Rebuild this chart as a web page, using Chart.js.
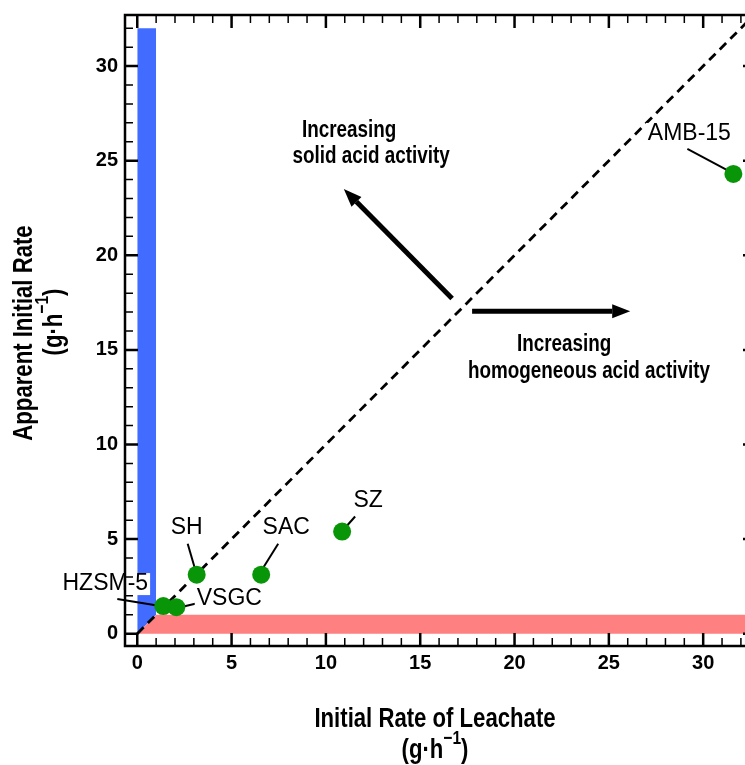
<!DOCTYPE html>
<html>
<head>
<meta charset="utf-8">
<script src="https://cdn.jsdelivr.net/npm/chart.js@4.4.1/dist/chart.umd.min.js"></script>
<style>
  html, body { margin: 0; padding: 0; background: #fff; overflow: hidden; }
  /* the frame's right edge runs just past the picture, so the canvas is clipped */
  #wrap { width: 745px; height: 765px; overflow: hidden; position: relative; }
  #chart { position: absolute; left: 0; top: 0; }
</style>
</head>
<body>
<div id="wrap"><canvas id="chart" width="760" height="765"></canvas></div>
<script>
// catalysts and their rates (g/h)
const catalysts = ['HZSM-5', 'VSGC', 'SH', 'SAC', 'SZ', 'AMB-15'];
const leachateRate = [1.38, 2.07, 3.15, 6.57, 10.86, 31.6];
const apparentRate = [1.46, 1.40, 3.12, 3.12, 5.40, 24.3];

const xTicks = [0, 5, 10, 15, 20, 25, 30];
const yTicks = [0, 5, 10, 15, 20, 25, 30];

// shaded bands
const solidBandX = [0, 1];
const solidBandTop = [32, 32];
const solidBandBottom = [0, 1];
const leachBandX = [0, 1, 32.8];
const leachBandTop = [0, 1, 1];

// y = x parity line
const parityX = [0, 33];

// arrows (tail, head) and notes
const arrowSolidX = [16.69, 10.95];
const arrowSolidY = [17.72, 23.5];
const arrowHomoX = [17.75, 26.13];
const arrowHomoY = [17.04, 17.04];
const noteSolid = ['Increasing', 'solid acid activity'];
const noteSolidX = [11.23, 12.4];
const noteSolidY = [26.6, 25.2];
const noteHomo = ['Increasing', 'homogeneous acid activity'];
const noteHomoX = [22.63, 23.95];
const noteHomoY = [15.3, 13.86];

const toXY = (xs, ys) => xs.map((x, i) => ({ x: x, y: ys[i] }));

// label placement in pixels relative to each point
const labelStyle = {
  'HZSM-5': { dx: -58, dy: -22, from: [-46, -7], to: [-3, 0] },
  'VSGC':   { dx: 53,  dy: -9,  from: [21, -4],  to: [4, 0] },
  'SH':     { dx: -10, dy: -47, from: [-9, -31], to: [-2, -7] },
  'SAC':    { dx: 25,  dy: -47, from: [17, -31], to: [2, -7] },
  'SZ':     { dx: 26,  dy: -31, from: [13, -15], to: [5, -6] },
  'AMB-15': { dx: -44, dy: -40, from: [-46, -25], to: [-1, -1] }
};

const FONT = "'Liberation Sans', Arial, sans-serif";
const SQUEEZE = 0.82; // narrow bold look of the original

function narrowText(ctx, text, x, y, size, rot) {
  ctx.save();
  ctx.translate(x, y);
  if (rot) ctx.rotate(rot);
  ctx.scale(SQUEEZE, 1);
  ctx.font = 'bold ' + size + 'px ' + FONT;
  ctx.textAlign = 'center';
  ctx.textBaseline = 'middle';
  ctx.fillText(text, 0, 0);
  ctx.restore();
}

const pointLabels = {
  id: 'pointLabels',
  beforeDatasetDraw(chart, args) {
    if (args.index !== 5) return;
    const { ctx, scales: { x, y } } = chart;
    ctx.save();
    ctx.font = '23px ' + FONT;
    ctx.textAlign = 'center';
    ctx.textBaseline = 'middle';
    catalysts.forEach((name, i) => {
      const s = labelStyle[name];
      const px = x.getPixelForValue(leachateRate[i]);
      const py = y.getPixelForValue(apparentRate[i]);
      ctx.strokeStyle = '#000';
      ctx.lineWidth = 2;
      ctx.beginPath();
      ctx.moveTo(px + s.from[0], py + s.from[1]);
      ctx.lineTo(px + s.to[0], py + s.to[1]);
      ctx.stroke();
      const w = ctx.measureText(name).width;
      ctx.fillStyle = '#fff';
      ctx.fillRect(px + s.dx - w / 2 - 2, py + s.dy - 11, w + 4, 22);
      ctx.fillStyle = '#000';
      ctx.fillText(name, px + s.dx, py + s.dy);
    });
    ctx.restore();
  }
};

function drawArrow(ctx, x0, y0, x1, y1) {
  const ang = Math.atan2(y1 - y0, x1 - x0);
  const head = 18, half = 7;
  const bx = x1 - head * Math.cos(ang), by = y1 - head * Math.sin(ang);
  ctx.lineWidth = 5;
  ctx.beginPath();
  ctx.moveTo(x0, y0);
  ctx.lineTo(bx, by);
  ctx.stroke();
  ctx.beginPath();
  ctx.moveTo(x1, y1);
  ctx.lineTo(bx + half * Math.sin(ang), by - half * Math.cos(ang));
  ctx.lineTo(bx - half * Math.sin(ang), by + half * Math.cos(ang));
  ctx.closePath();
  ctx.fill();
}

// "(g·h-1)" with the -1 raised, centred on (0,0) of the current transform
function drawUnit(ctx, size) {
  ctx.save();
  ctx.scale(SQUEEZE, 1);
  const big = 'bold ' + size + 'px ' + FONT;
  const small = 'bold ' + Math.round(size * 0.7) + 'px ' + FONT;
  ctx.font = big;
  const w1 = ctx.measureText('(g·h').width;
  const w3 = ctx.measureText(')').width;
  ctx.font = small;
  const w2 = ctx.measureText('−1').width;
  const left = -(w1 + w2 + w3) / 2;
  ctx.textAlign = 'left';
  ctx.textBaseline = 'middle';
  ctx.font = big;
  ctx.fillText('(g·h', left, 0);
  ctx.font = small;
  ctx.fillText('−1', left + w1, -size * 0.45);
  ctx.font = big;
  ctx.fillText(')', left + w1 + w2, 0);
  ctx.restore();
}

const decorations = {
  id: 'decorations',
  afterDatasetsDraw(chart) {
    const { ctx, chartArea: a, scales: { x, y } } = chart;
    ctx.save();
    ctx.strokeStyle = '#000';
    ctx.fillStyle = '#000';
    // ticks on all four sides, pointing in
    for (let v = 0; v <= 32; v++) {
      const major = v % 5 === 0;
      const len = major ? 13 : 8;
      ctx.lineWidth = major ? 2.5 : 1.5;
      const px = x.getPixelForValue(v);
      const py = y.getPixelForValue(v);
      ctx.beginPath();
      if (px < a.right) {
        ctx.moveTo(px, a.bottom); ctx.lineTo(px, a.bottom - len);
        ctx.moveTo(px, a.top); ctx.lineTo(px, a.top + len);
      }
      if (py > a.top) {
        ctx.moveTo(a.left, py); ctx.lineTo(a.left + len, py);
        ctx.moveTo(a.right, py); ctx.lineTo(a.right - len, py);
      }
      ctx.stroke();
    }
    ctx.lineWidth = 2.5;
    ctx.strokeRect(a.left, a.top, a.right - a.left, a.bottom - a.top);

    // arrows
    drawArrow(ctx, x.getPixelForValue(arrowSolidX[0]), y.getPixelForValue(arrowSolidY[0]),
      x.getPixelForValue(arrowSolidX[1]), y.getPixelForValue(arrowSolidY[1]));
    drawArrow(ctx, x.getPixelForValue(arrowHomoX[0]), y.getPixelForValue(arrowHomoY[0]),
      x.getPixelForValue(arrowHomoX[1]), y.getPixelForValue(arrowHomoY[1]));

    noteSolid.forEach((t, i) => narrowText(ctx, t, x.getPixelForValue(noteSolidX[i]), y.getPixelForValue(noteSolidY[i]), 23));
    noteHomo.forEach((t, i) => narrowText(ctx, t, x.getPixelForValue(noteHomoX[i]), y.getPixelForValue(noteHomoY[i]), 23));
    ctx.restore();
  },
  afterDraw(chart) {
    const { ctx, scales: { x } } = chart;
    // centre of the visible frame
    const cx = (x.left + 745) / 2;
    ctx.save();
    ctx.fillStyle = '#000';
    narrowText(ctx, 'Initial Rate of Leachate', cx, 720, 27);
    ctx.save();
    ctx.translate(cx, 751);
    drawUnit(ctx, 27);
    ctx.restore();
    narrowText(ctx, 'Apparent Initial Rate', 25, 333, 27, -Math.PI / 2);
    ctx.save();
    ctx.translate(55, 322);
    ctx.rotate(-Math.PI / 2);
    drawUnit(ctx, 27);
    ctx.restore();
    ctx.restore();
  }
};

new Chart(document.getElementById('chart'), {
  type: 'scatter',
  data: {
    datasets: [
      {
        label: 'solid band',
        data: toXY(solidBandX, solidBandTop),
        showLine: true, fill: '+1',
        backgroundColor: 'rgb(66,108,255)', borderWidth: 0, pointRadius: 0, order: 6
      },
      {
        label: 'solid band base',
        data: toXY(solidBandX, solidBandBottom),
        showLine: true, fill: false, borderWidth: 0, pointRadius: 0, order: 6
      },
      {
        label: 'leachate band',
        data: toXY(leachBandX, leachBandTop),
        showLine: true, fill: 'origin',
        backgroundColor: 'rgb(255,128,128)', borderWidth: 0, pointRadius: 0, order: 5
      },
      {
        label: 'spacer',
        data: [],
        order: 5
      },
      {
        label: 'parity',
        data: toXY(parityX, parityX),
        showLine: true, fill: false,
        borderColor: '#000', borderWidth: 2.8, borderDash: [9, 6], pointRadius: 0, order: 4
      },
      {
        label: 'catalysts',
        data: toXY(leachateRate, apparentRate),
        backgroundColor: 'rgb(8,150,8)', borderWidth: 0,
        pointRadius: 9, pointHoverRadius: 9, order: 1
      }
    ]
  },
  options: {
    responsive: false,
    animation: false,
    events: [],
    layout: { autoPadding: false, padding: { top: 15, right: 4, left: 0, bottom: 0 } },
    plugins: { legend: { display: false }, tooltip: { enabled: false } },
    scales: {
      x: {
        type: 'linear', min: -0.65, max: 32.8,
        afterBuildTicks: s => { s.ticks = xTicks.map(v => ({ value: v })); },
        afterFit: s => { s.height = 119; s.paddingLeft = 0; s.paddingRight = 0; },
        grid: { display: false },
        border: { display: false },
        ticks: { color: '#000', padding: -3, font: { family: FONT, size: 20, weight: 'bold' } }
      },
      y: {
        type: 'linear', min: -0.65, max: 32.7,
        afterBuildTicks: s => { s.ticks = yTicks.map(v => ({ value: v })); },
        afterFit: s => { s.width = 125; s.paddingTop = 0; s.paddingBottom = 0; },
        grid: { display: false },
        border: { display: false },
        ticks: { color: '#000', padding: -1, font: { family: FONT, size: 20, weight: 'bold' } }
      }
    }
  },
  plugins: [pointLabels, decorations]
});
</script>
</body>
</html>
